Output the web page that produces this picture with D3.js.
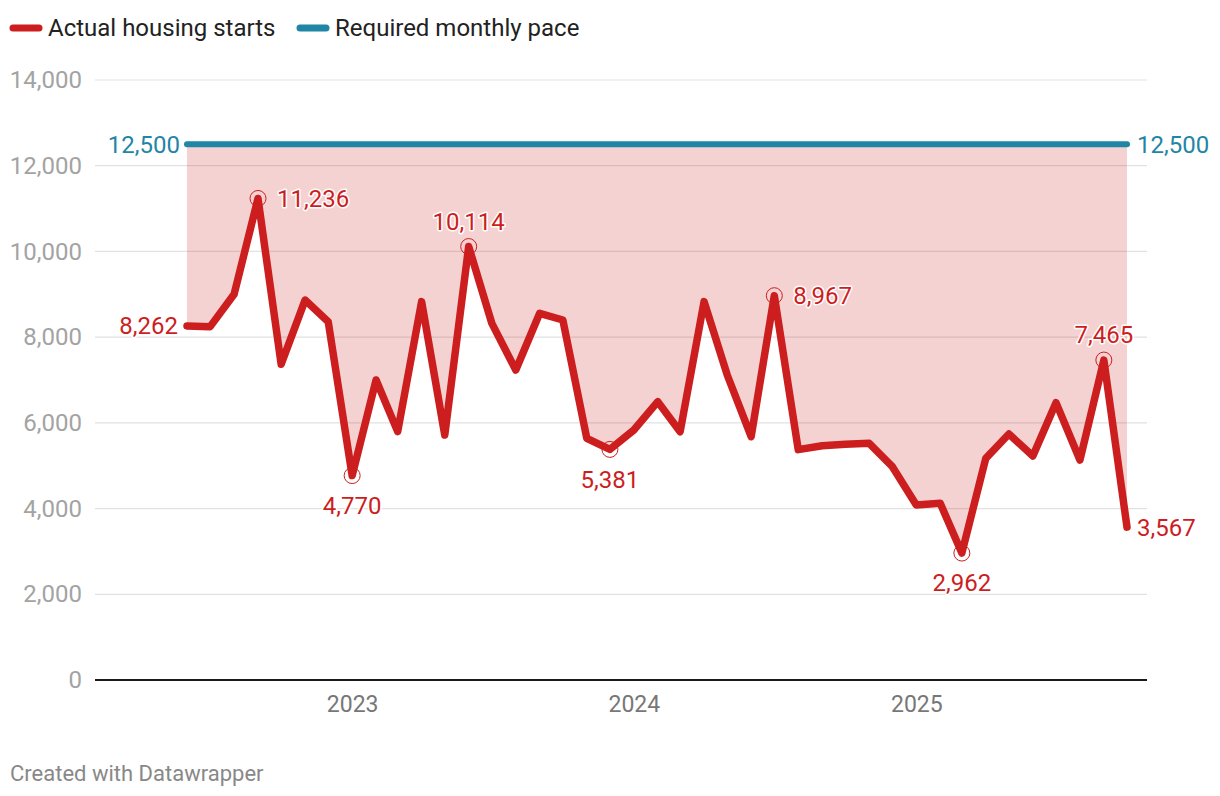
<!DOCTYPE html>
<html>
<head>
<meta charset="utf-8">
<script src="https://cdn.jsdelivr.net/npm/d3@7"></script>
<style>
  body { margin: 0; background: #fff; }
  svg { font-family: Roboto, sans-serif; }
</style>
</head>
<body>
<svg id="chart" width="1220" height="796"></svg>
<script>
// monthly housing starts, Jun 2022 - Oct 2025
let months = [
  '2022-06', '2022-07', '2022-08', '2022-09', '2022-10', '2022-11', '2022-12',
  '2023-01', '2023-02', '2023-03', '2023-04', '2023-05', '2023-06', '2023-07',
  '2023-08', '2023-09', '2023-10', '2023-11', '2023-12',
  '2024-01', '2024-02', '2024-03', '2024-04', '2024-05', '2024-06', '2024-07',
  '2024-08', '2024-09', '2024-10', '2024-11', '2024-12',
  '2025-01', '2025-02', '2025-03', '2025-04', '2025-05', '2025-06', '2025-07',
  '2025-08', '2025-09', '2025-10'
];
let starts = [
  8262, 8245, 9000, 11236, 7366, 8865, 8360,
  4770, 7000, 5795, 8828, 5717, 10114, 8322,
  7233, 8556, 8400, 5640, 5381,
  5833, 6494, 5794, 8828, 7117, 5678, 8967,
  5375, 5465, 5500, 5522, 4978,
  4083, 4122, 2962, 5172, 5740, 5227, 6471,
  5133, 7465, 3567
];
let requiredPace = 12500;
let yTicks = [0, 2000, 4000, 6000, 8000, 10000, 12000, 14000];
let xTicks = ['2023-01', '2024-01', '2025-01'];

// labelled points: month, placement
let labelled = [
  ['2022-06', 'left'], ['2022-09', 'right'], ['2023-01', 'below'],
  ['2023-06', 'above'], ['2023-12', 'below'], ['2024-07', 'right'],
  ['2025-03', 'below'], ['2025-09', 'above'], ['2025-10', 'right']
];

let red = '#cc1e1e';
let blue = '#1f86a5';

let parse = d3.timeParse('%Y-%m');
let fmt = d3.format(',');
let data = months.map((m, i) => ({ date: parse(m), value: starts[i], key: m }));

let svg = d3.select('#chart');

let x = d3.scaleTime()
  .domain(d3.extent(data, d => d.date))
  .range([187, 1127]);
let y = d3.scaleLinear().domain([0, 14000]).range([680, 80]);

// grid
let grid = svg.append('g');
grid.selectAll('line').data(yTicks.filter(t => t > 0)).enter().append('line')
  .attr('x1', 95).attr('x2', 1147)
  .attr('y1', d => y(d)).attr('y2', d => y(d))
  .attr('stroke', '#e1e1e1').attr('stroke-width', 1.2);

let yAxis = svg.append('g')
  .attr('transform', 'translate(82,0)')
  .call(d3.axisLeft(y).tickValues(yTicks).tickSize(0).tickPadding(0).tickFormat(fmt));
yAxis.select('.domain').remove();
yAxis.selectAll('text')
  .attr('font-family', 'Roboto, sans-serif')
  .attr('font-size', 24)
  .attr('fill', '#a3a3a3');

let xAxis = svg.append('g')
  .attr('transform', 'translate(0,680)')
  .call(d3.axisBottom(x).tickValues(xTicks.map(parse)).tickSize(0).tickPadding(16)
    .tickFormat(d3.timeFormat('%Y')));
xAxis.select('.domain').remove();
xAxis.selectAll('text')
  .attr('font-family', 'Roboto, sans-serif')
  .attr('font-size', 23)
  .attr('fill', '#777');

// gap area between actual and required
let area = d3.area()
  .x(d => x(d.date))
  .y0(y(requiredPace))
  .y1(d => y(d.value));
svg.append('path').datum(data)
  .attr('d', area)
  .attr('fill', 'rgba(204,30,30,0.2)');

// baseline
svg.append('line')
  .attr('x1', 95).attr('x2', 1147)
  .attr('y1', y(0)).attr('y2', y(0))
  .attr('stroke', '#1a1a1a').attr('stroke-width', 2);

// required pace line
svg.append('line')
  .attr('x1', x(data[0].date)).attr('x2', x(data[data.length - 1].date))
  .attr('y1', y(requiredPace)).attr('y2', y(requiredPace))
  .attr('stroke', blue).attr('stroke-width', 6).attr('stroke-linecap', 'round');

[[x(data[0].date) - 7, 'end'], [x(data[data.length - 1].date) + 10, 'start']].forEach(p => {
  svg.append('text')
    .attr('x', p[0]).attr('y', y(requiredPace)).attr('dy', '0.35em')
    .attr('text-anchor', p[1])
    .attr('font-size', 24).attr('fill', blue)
    .text(fmt(requiredPace));
});

// actual line
let line = d3.line().x(d => x(d.date)).y(d => y(d.value));
svg.append('path').datum(data)
  .attr('d', line)
  .attr('fill', 'none')
  .attr('stroke', red).attr('stroke-width', 7.5)
  .attr('stroke-linejoin', 'round').attr('stroke-linecap', 'round');

// highlight rings and labels
labelled.forEach(([m, pos], i) => {
  let d = data.find(p => p.key === m);
  let px = x(d.date), py = y(d.value);
  if (i > 0 && i < labelled.length - 1) {
    svg.append('circle')
      .attr('cx', px).attr('cy', py).attr('r', 8)
      .attr('fill', 'none').attr('stroke', red).attr('stroke-width', 1);
  }
  let tx = px, ty = py, anchor = 'middle';
  if (pos === 'left') { tx = px - 9; anchor = 'end'; }
  if (pos === 'right') { tx = px + (i === labelled.length - 1 ? 10 : 19); anchor = 'start'; }
  if (pos === 'above') { ty = py - 25; }
  if (pos === 'below') { ty = py + 30; }
  svg.append('text')
    .attr('x', tx).attr('y', ty).attr('dy', '0.35em')
    .attr('text-anchor', anchor)
    .attr('font-size', 24)
    .attr('fill', red)
    .attr('stroke', '#fff').attr('stroke-width', 3)
    .attr('paint-order', 'stroke').attr('stroke-linejoin', 'round')
    .text(fmt(d.value));
});

// legend
let legend = [['Actual housing starts', red, 10], ['Required monthly pace', blue, 297]];
legend.forEach(([label, color, lx]) => {
  svg.append('line')
    .attr('x1', lx + 3).attr('x2', lx + 29).attr('y1', 28).attr('y2', 28)
    .attr('stroke', color).attr('stroke-width', 7).attr('stroke-linecap', 'round');
  svg.append('text')
    .attr('x', lx + 38).attr('y', 28).attr('dy', '0.35em')
    .attr('font-size', 24).attr('fill', '#222')
    .text(label);
});

svg.append('text')
  .attr('x', 10).attr('y', 773).attr('dy', '0.35em')
  .attr('font-size', 22).attr('fill', '#888')
  .text('Created with Datawrapper');
</script>
</body>
</html>
